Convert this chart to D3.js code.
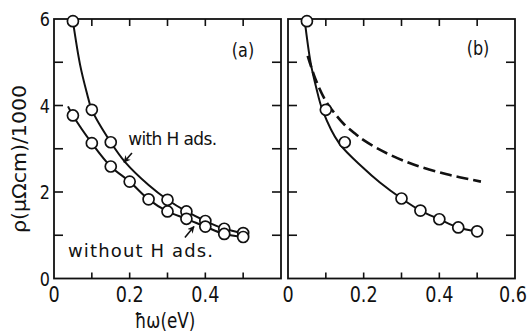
<!DOCTYPE html>
<html>
<head>
<meta charset="utf-8">
<script src="https://cdn.jsdelivr.net/npm/d3@7"></script>
<style>
  body { margin: 0; background: #fff; }
  text { font-family: 'DejaVu Sans', sans-serif; fill: #111; }
</style>
</head>
<body>
<div class="myChart"></div>
<script>
// panel (a) measured points
var withX = [0.05, 0.1, 0.15, 0.3, 0.35, 0.4, 0.45, 0.5];
var withY = [5.95, 3.9, 3.15, 1.82, 1.55, 1.33, 1.15, 1.05];
var withoutX = [0.05, 0.1, 0.15, 0.2, 0.25, 0.3, 0.35, 0.4, 0.45, 0.5];
var withoutY = [3.77, 3.13, 2.59, 2.24, 1.83, 1.55, 1.38, 1.2, 1.03, 0.96];
// panel (a) drawn curves
var withCurveX = [0.05, 0.069, 0.086, 0.1, 0.15, 0.188, 0.25, 0.3, 0.35, 0.4, 0.45, 0.5];
var withCurveY = [5.95, 4.94, 4.32, 3.9, 3.15, 2.69, 2.16, 1.82, 1.55, 1.33, 1.15, 1.05];
var withoutCurveX = [0.037, 0.05, 0.1, 0.15, 0.2, 0.25, 0.3, 0.35, 0.4, 0.45, 0.5];
var withoutCurveY = [3.98, 3.77, 3.13, 2.59, 2.24, 1.83, 1.55, 1.38, 1.2, 1.03, 0.96];

// panel (b)
var bX = [0.05, 0.1, 0.15, 0.3, 0.35, 0.4, 0.45, 0.5];
var bY = [5.95, 3.9, 3.15, 1.85, 1.57, 1.37, 1.18, 1.09];
var bCurveX = [0.043, 0.06, 0.075, 0.091, 0.135, 0.2, 0.243, 0.3, 0.35, 0.4, 0.45, 0.5];
var bCurveY = [6.05, 4.98, 4.4, 3.9, 3.13, 2.55, 2.22, 1.85, 1.57, 1.37, 1.18, 1.09];
var dashX = [0.052, 0.073, 0.1, 0.118, 0.15, 0.18, 0.2, 0.24, 0.27, 0.33, 0.42, 0.51];
var dashY = [5.15, 4.6, 4.1, 3.88, 3.55, 3.33, 3.2, 2.99, 2.86, 2.64, 2.41, 2.24];

// ticks
var xTicks = [0, 0.1, 0.2, 0.3, 0.4, 0.5, 0.6];
var yTicks = [0, 1, 2, 3, 4, 5, 6];
var xLabelsA = [0, 0.2, 0.4];
var xLabelsB = [0, 0.2, 0.4, 0.6];
var yLabels = [0, 2, 4, 6];

const width = 527, height = 331;
var margin = {top: 19, bottom: 52.5};
var squeeze = 0.8;   // narrow lettering like the original

var svg = d3.select('.myChart')
            .append('svg')
            .attr('width', width)
            .attr('height', height);

var defs = svg.append('defs');
defs.append('marker')
    .attr('id', 'arrow')
    .attr('viewBox', '0 0 10 10')
    .attr('refX', 9).attr('refY', 5)
    .attr('markerWidth', 7).attr('markerHeight', 7)
    .attr('markerUnits', 'userSpaceOnUse')
    .attr('orient', 'auto')
    .append('path')
    .attr('d', 'M0,0 L10,5 L0,10 L3,5 Z')
    .attr('fill', '#111');

var y = d3.scaleLinear().domain([0, 6]).range([height - margin.bottom, margin.top]);

var panels = [
    {id: 'a', left: 54, right: 281},
    {id: 'b', left: 288, right: 515}
];

var line = d3.line().curve(d3.curveCatmullRom.alpha(0.5));

function pairs(xs, ys) { return xs.map((d, i) => [d, ys[i]]); }

// place a text at (px, py) with narrow glyphs
function narrow(px, py) { return `translate(${px},${py}) scale(${squeeze},1)`; }

panels.forEach(p => {
    var x = d3.scaleLinear().domain([0, 0.6]).range([p.left, p.right]);
    p.x = x;
    var g = svg.append('g').attr('class', 'panel-' + p.id);

    defs.append('clipPath').attr('id', 'clip-' + p.id)
        .append('rect')
        .attr('x', p.left).attr('y', y(6))
        .attr('width', p.right - p.left).attr('height', y(0) - y(6));

    // frame
    g.append('rect')
        .attr('x', p.left).attr('y', y(6))
        .attr('width', p.right - p.left).attr('height', y(0) - y(6))
        .attr('fill', 'none').attr('stroke', '#111').attr('stroke-width', 1.8);

    // inward ticks
    var ticks = g.append('g').attr('stroke', '#111').attr('stroke-width', 1.6);
    xTicks.slice(1, -1).forEach(t => {
        ticks.append('line').attr('x1', x(t)).attr('x2', x(t)).attr('y1', y(0)).attr('y2', y(0) - 6);
        ticks.append('line').attr('x1', x(t)).attr('x2', x(t)).attr('y1', y(6)).attr('y2', y(6) + 7);
    });
    yTicks.slice(1, -1).forEach(t => {
        ticks.append('line').attr('x1', p.left).attr('x2', p.left + 9).attr('y1', y(t)).attr('y2', y(t));
        ticks.append('line').attr('x1', p.right).attr('x2', p.right - 9).attr('y1', y(t)).attr('y2', y(t));
    });

    // x labels
    g.selectAll('.xlab')
        .data(p.id === 'a' ? xLabelsA : xLabelsB)
        .enter().append('text')
        .attr('transform', d => narrow(d === 0.6 ? x(d) - 2 : x(d), 302))
        .attr('text-anchor', 'middle')
        .style('font-size', '22px')
        .text(d => d === 0 ? '0' : d3.format('.1f')(d));
});

var xa = panels[0].x, xb = panels[1].x;

// y labels
svg.selectAll('.ylab')
    .data(yLabels)
    .enter().append('text')
    .attr('transform', d => narrow(50, y(d) + 7))
    .attr('text-anchor', 'end')
    .style('font-size', '20px')
    .text(d => d);

// panel (a) curves
var ga = svg.append('g').attr('clip-path', 'url(#clip-a)');
ga.append('path')
    .attr('d', line(pairs(withCurveX, withCurveY).map(d => [xa(d[0]), y(d[1])])))
    .attr('fill', 'none').attr('stroke', '#111').attr('stroke-width', 2);
ga.append('path')
    .attr('d', line(pairs(withoutCurveX, withoutCurveY).map(d => [xa(d[0]), y(d[1])])))
    .attr('fill', 'none').attr('stroke', '#111').attr('stroke-width', 2);

// panel (b) curves
var gb = svg.append('g').attr('clip-path', 'url(#clip-b)');
gb.append('path')
    .attr('d', line(pairs(bCurveX, bCurveY).map(d => [xb(d[0]), y(d[1])])))
    .attr('fill', 'none').attr('stroke', '#111').attr('stroke-width', 2);
gb.append('path')
    .attr('d', line(pairs(dashX, dashY).map(d => [xb(d[0]), y(d[1])])))
    .attr('fill', 'none').attr('stroke', '#111').attr('stroke-width', 2.6)
    .attr('stroke-dasharray', '12,5');

// open circles
function dots(xs, ys, sx) {
    svg.append('g').selectAll('circle')
        .data(pairs(xs, ys))
        .enter().append('circle')
        .attr('cx', d => sx(d[0]))
        .attr('cy', d => y(d[1]))
        .attr('r', 5.5)
        .attr('fill', '#fff')
        .attr('stroke', '#111')
        .attr('stroke-width', 1.7);
}
dots(withX, withY, xa);
dots(withoutX, withoutY, xa);
dots(bX, bY, xb);

// annotations
svg.append('text')
    .attr('x', xa(0.196)).attr('y', y(3.09))
    .attr('textLength', 89).attr('lengthAdjust', 'spacing')
    .style('font-size', '17px')
    .text('with H ads.');
svg.append('text')
    .attr('x', xa(0.037)).attr('y', y(0.5))
    .attr('textLength', 145).attr('lengthAdjust', 'spacing')
    .style('font-size', '18px')
    .text('without H ads.');

svg.append('line')
    .attr('x1', xa(0.206)).attr('y1', y(2.9))
    .attr('x2', xa(0.185)).attr('y2', y(2.69))
    .attr('stroke', '#111').attr('stroke-width', 1.6)
    .attr('marker-end', 'url(#arrow)');
svg.append('line')
    .attr('x1', xa(0.346)).attr('y1', y(0.95))
    .attr('x2', xa(0.37)).attr('y2', y(1.2))
    .attr('stroke', '#111').attr('stroke-width', 1.6)
    .attr('marker-end', 'url(#arrow)');

svg.append('text')
    .attr('transform', narrow(243, 57))
    .attr('text-anchor', 'middle')
    .style('font-size', '20px')
    .text('(a)');
svg.append('text')
    .attr('transform', narrow(478, 55))
    .attr('text-anchor', 'middle')
    .style('font-size', '20px')
    .text('(b)');

// axis titles
svg.append('text')
    .attr('transform', 'translate(26,159) rotate(-90)')
    .attr('text-anchor', 'middle')
    .attr('textLength', 148).attr('lengthAdjust', 'spacingAndGlyphs')
    .style('font-size', '19px')
    .text('ρ(μΩcm)/1000');
svg.append('text')
    .attr('transform', narrow(165, 328))
    .attr('text-anchor', 'middle')
    .style('font-size', '21px')
    .text('ħω(eV)');
</script>
</body>
</html>
